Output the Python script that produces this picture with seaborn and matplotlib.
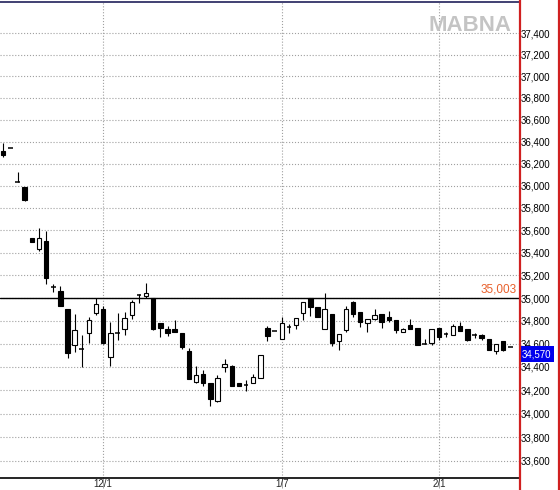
import numpy as np
import pandas as pd
import matplotlib
matplotlib.use("Agg")
import matplotlib.pyplot as plt
import seaborn as sns
from matplotlib.ticker import FixedLocator, FuncFormatter, NullLocator
from matplotlib.lines import Line2D

# daily OHLC
opens = [36311, 36344, 36029, 35985, 35535, 35431, 35500, 35096, 35060, 34907,
         34593, 34557, 34691, 34868, 34904, 34484, 34691, 34726, 34847, 35025,
         35016, 34996, 34782, 34729, 34729, 34691, 34538, 34273, 34337, 34260,
         34111, 34402, 34408, 34260, 34246, 34264, 34309, 34735, 34711, 34643,
         34744, 34764, 34868, 34996, 34918, 34726, 34862, 34625, 34720, 34963,
         34877, 34780, 34820, 34862, 34838, 34809, 34702, 34764, 34740, 34602,
         34607, 34735, 34682, 34676, 34758, 34726, 34676, 34676, 34646, 34542,
         34622, 34570]
highs = [36391, 36344, 36127, 35985, 35535, 35624, 35594, 35120, 35105, 34907,
         34860, 34676, 34830, 35002, 34927, 34794, 34868, 34877, 34987, 35031,
         35129, 34996, 34782, 34756, 34809, 34691, 34560, 34408, 34373, 34260,
         34331, 34468, 34414, 34260, 34289, 34340, 34500, 34758, 34711, 34830,
         34773, 34824, 34966, 34996, 34918, 35040, 34862, 34682, 34927, 34972,
         34877, 34815, 34907, 34862, 34882, 34809, 34735, 34818, 34740, 34646,
         34726, 34735, 34700, 34773, 34794, 34726, 34691, 34682, 34646, 34602,
         34625, 34570]
lows = [36260, 36344, 36029, 35860, 35496, 35411, 35120, 35055, 34927, 34474,
        34533, 34402, 34611, 34853, 34602, 34408, 34637, 34676, 34818, 34957,
        35002, 34720, 34660, 34669, 34705, 34553, 34295, 34264, 34237, 34068,
        34102, 34359, 34240, 34240, 34196, 34260, 34309, 34625, 34711, 34643,
        34696, 34726, 34809, 34844, 34833, 34726, 34580, 34548, 34705, 34830,
        34749, 34705, 34809, 34740, 34791, 34696, 34702, 34732, 34593, 34602,
        34587, 34637, 34660, 34676, 34714, 34622, 34655, 34637, 34548, 34513,
        34542, 34570]
closes = [36276, 36344, 36029, 35869, 35496, 35535, 35180, 35096, 34927, 34519,
          34720, 34557, 34809, 34948, 34607, 34691, 34691, 34824, 34966, 35025,
          35046, 34729, 34740, 34691, 34705, 34572, 34295, 34328, 34264, 34122,
          34303, 34425, 34240, 34240, 34246, 34313, 34500, 34669, 34711, 34780,
          34744, 34824, 34966, 34922, 34833, 34904, 34607, 34682, 34904, 34860,
          34788, 34815, 34853, 34788, 34809, 34720, 34726, 34732, 34593, 34602,
          34726, 34660, 34682, 34756, 34714, 34631, 34676, 34655, 34548, 34602,
          34548, 34570]

date_ticks = [14, 39, 61]
date_labels = ["12/1", "1/7", "2/1"]
price_ticks = list(range(33600, 37401, 200))
ref_price = 35003
last_price = 34570

df = pd.DataFrame({"open": opens, "high": highs, "low": lows, "close": closes})
df["idx"] = np.arange(len(df))
df["lo_body"] = df[["open", "close"]].min(axis=1)
df["body"] = (df["close"] - df["open"]).abs()
up = df[(df.close > df.open)]
down = df[(df.close < df.open)]
flat = df[(df.close == df.open)]

sns.set_theme(style="white")
plt.rcParams["font.family"] = ["Liberation Sans", "DejaVu Sans"]

fig = plt.figure(figsize=(5.6, 4.9), dpi=100)
ax = fig.add_axes([0, 12 / 490, 519 / 560, 476 / 490])
ax.set_yscale("log")

# wicks
ax.vlines(df.idx, df.low, df.high, color="black", lw=0.8, zorder=2)
# bodies
ax.bar(up.idx, up.body, bottom=up.lo_body, width=0.62, color="white",
       edgecolor="black", linewidth=0.8, zorder=3)
ax.bar(down.idx, down.body, bottom=down.lo_body, width=0.62, color="black",
       edgecolor="black", linewidth=0.8, zorder=3)
ax.hlines(flat.close, flat.idx - 0.33, flat.idx + 0.33, color="black", lw=1.1, zorder=3)

# reference line
ax.axhline(ref_price, color="black", lw=1, zorder=2)
ax.annotate(f"{ref_price:,}", xy=(1, ref_price), xycoords=("axes fraction", "data"),
            xytext=(-2, 2), textcoords="offset pixels", ha="right", va="bottom",
            color="#e8602c", fontsize=8.5)

ax.set_xlim(-0.46, 72.23)
ax.set_ylim(33456, 37696)

ax.yaxis.set_major_locator(FixedLocator(price_ticks))
ax.yaxis.set_minor_locator(NullLocator())
ax.yaxis.set_major_formatter(FuncFormatter(lambda v, p: f"{int(round(v)):,}"))
ax.yaxis.tick_right()
ax.tick_params(axis="y", length=0, pad=1.5, labelsize=7, labelcolor="black")

ax.set_xticks(date_ticks)
ax.set_xticklabels(date_labels)
ax.tick_params(axis="x", direction="out", length=7, width=0.6, color="#999999",
               pad=-6.3, labelsize=7, bottom=True)

ax.grid(True, ls=":", color="#a0a0a0", lw=0.8)
ax.set_axisbelow(True)

for side in ["left", "right"]:
    ax.spines[side].set_visible(False)
ax.spines["bottom"].set_color("black")
ax.spines["bottom"].set_linewidth(1.2)
ax.spines["top"].set_color("#20205a")
ax.spines["top"].set_linewidth(1.2)

# last price tag
ax.annotate(f"{last_price:,}", xy=(1, last_price), xycoords=("axes fraction", "data"),
            xytext=(3, -7), textcoords="offset pixels", ha="left", va="center",
            color="white", fontsize=7, annotation_clip=False,
            bbox=dict(boxstyle="square,pad=0.3", fc="#0000ee", ec="none"))

# watermark
ax.text(0.985, 0.95, "MABNA", transform=ax.transAxes, ha="right", va="center",
        fontsize=16, fontweight="bold", color="#c4c4c4")

# red frame of the price scale
for xp in (519.5, 558.5):
    fig.add_artist(Line2D([xp / 560, xp / 560], [0, 1], transform=fig.transFigure,
                          color="#d02020", lw=1.6))

fig.savefig("out.png", dpi=100)
